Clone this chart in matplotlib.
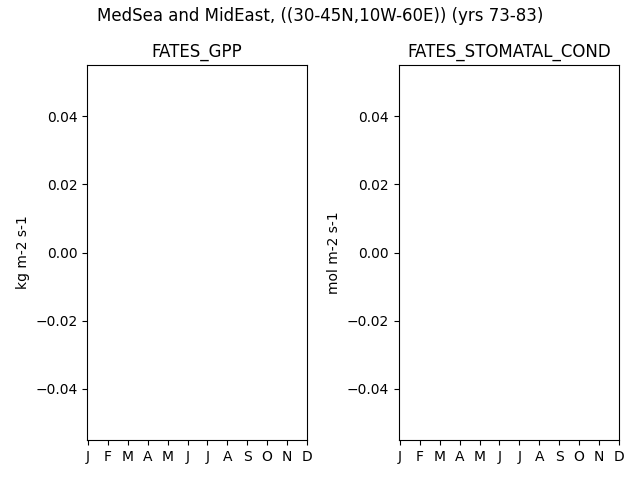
import matplotlib
matplotlib.use("Agg")
import matplotlib.pyplot as plt
import numpy as np

months = ["J", "F", "M", "A", "M", "J", "J", "A", "S", "O", "N", "D"]
month_num = np.arange(1, 13)
gpp = np.full(12, np.nan)
stomatal_cond = np.full(12, np.nan)

variables = ["FATES_GPP", "FATES_STOMATAL_COND"]
units = ["kg m-2 s-1", "mol m-2 s-1"]
series = [gpp, stomatal_cond]

fig, axes = plt.subplots(1, 2, figsize=(6.4, 4.8), dpi=100)
for ax, var, unit, vals in zip(axes, variables, units, series):
    ax.plot(month_num, vals)
    ax.set_title(var)
    ax.set_ylabel(unit)
    ax.set_xticks(month_num)
    ax.set_xticklabels(months)
    ax.set_xlim(0.95, 12)
    ax.set_ylim(-0.055, 0.055)

fig.suptitle("MedSea and MidEast, ((30-45N,10W-60E)) (yrs 73-83)", y=0.985)
fig.subplots_adjust(left=0.136, right=0.967, top=0.8646, bottom=0.0833, wspace=0.418)
plt.savefig("out.png")
